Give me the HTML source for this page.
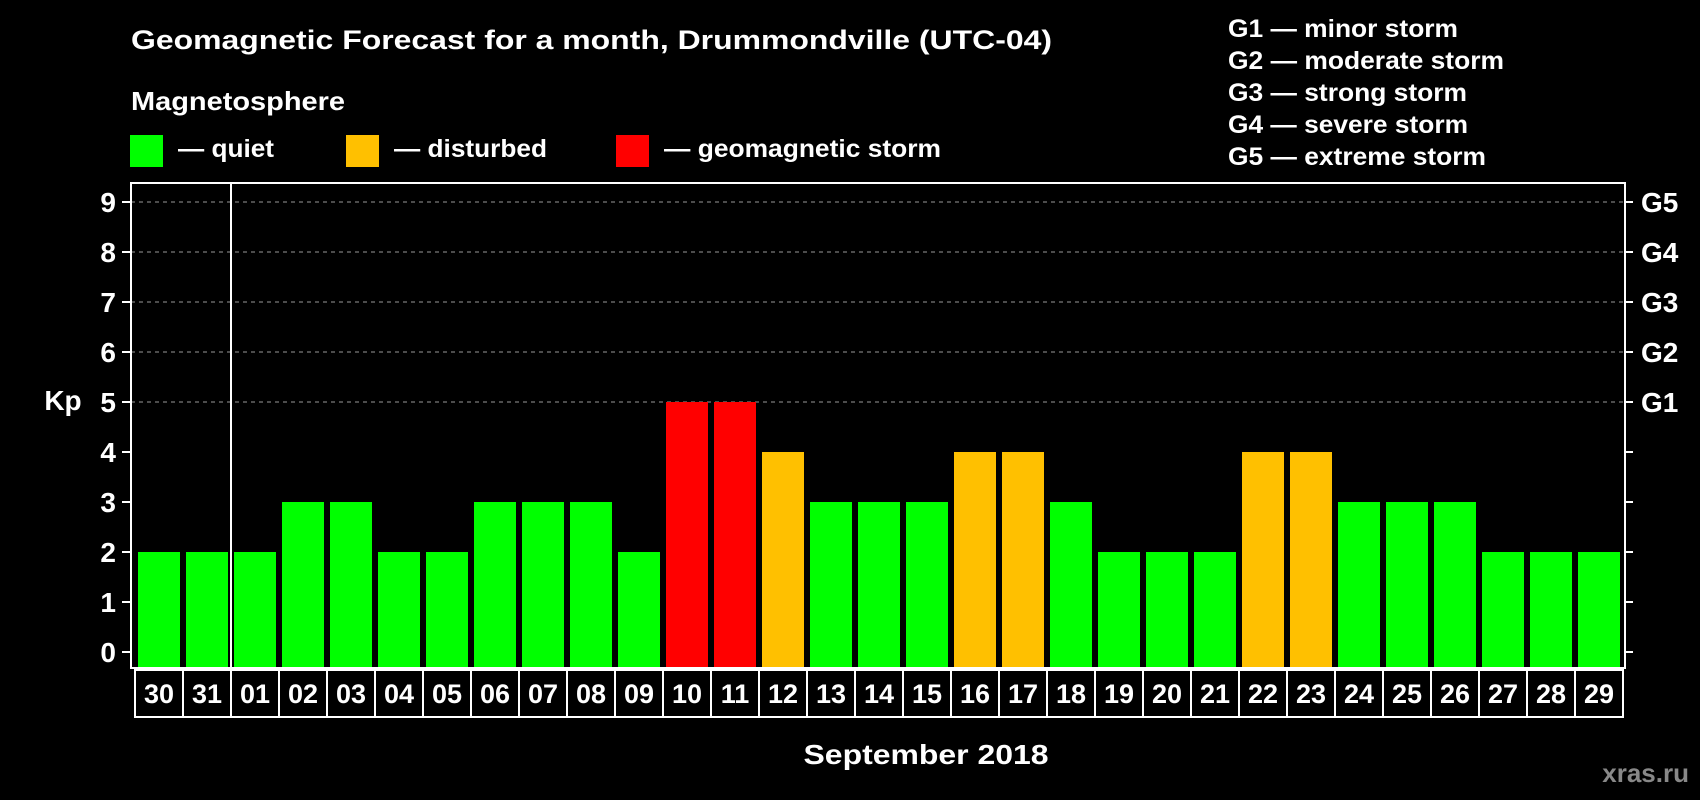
<!DOCTYPE html>
<html><head><meta charset="utf-8"><style>
html,body{margin:0;padding:0;background:#000;}
svg{display:block;font-family:"Liberation Sans",sans-serif;font-weight:bold;}
</style></head><body>
<svg id="chart" width="1700" height="800" viewBox="0 0 1700 800">
<rect x="0" y="0" width="1700" height="800" fill="#000"/>
<text x="131" y="49" fill="#fff" font-size="27" textLength="921" lengthAdjust="spacingAndGlyphs">Geomagnetic Forecast for a month, Drummondville (UTC-04)</text>
<text x="131" y="110" fill="#fff" font-size="26" textLength="214" lengthAdjust="spacingAndGlyphs">Magnetosphere</text>
<g><rect x="130" y="135" width="33" height="32" fill="#00ff00"/><text x="178" y="157" fill="#fff" font-size="25" textLength="96" lengthAdjust="spacingAndGlyphs">— quiet</text></g>
<g><rect x="346" y="135" width="33" height="32" fill="#ffc000"/><text x="394" y="157" fill="#fff" font-size="25" textLength="153" lengthAdjust="spacingAndGlyphs">— disturbed</text></g>
<g><rect x="616" y="135" width="33" height="32" fill="#ff0000"/><text x="664" y="157" fill="#fff" font-size="25" textLength="277" lengthAdjust="spacingAndGlyphs">— geomagnetic storm</text></g>
<g fill="#fff" font-size="25">
<text x="1228" y="37" textLength="230" lengthAdjust="spacingAndGlyphs">G1 — minor storm</text>
<text x="1228" y="69" textLength="276" lengthAdjust="spacingAndGlyphs">G2 — moderate storm</text>
<text x="1228" y="101" textLength="239" lengthAdjust="spacingAndGlyphs">G3 — strong storm</text>
<text x="1228" y="133" textLength="240" lengthAdjust="spacingAndGlyphs">G4 — severe storm</text>
<text x="1228" y="165" textLength="258" lengthAdjust="spacingAndGlyphs">G5 — extreme storm</text>
</g>
<text x="63" y="410" fill="#fff" font-size="28" text-anchor="middle">Kp</text>
<text x="926" y="764" fill="#fff" font-size="28" text-anchor="middle" textLength="245" lengthAdjust="spacingAndGlyphs">September 2018</text>
<text x="1689" y="782" fill="#888" font-size="26" text-anchor="end">xras.ru</text>
<g id="grid"></g>
<g id="bars"></g>
<g id="axes"></g>
</svg>
<script>
const days = ["30","31","01","02","03","04","05","06","07","08","09","10","11","12","13","14","15","16","17","18","19","20","21","22","23","24","25","26","27","28","29"];
const kpValues = [2,2,2,3,3,2,2,3,3,3,2,5,5,4,3,3,3,4,4,3,2,2,2,4,4,3,3,3,2,2,2];
const yTicks = [0,1,2,3,4,5,6,7,8,9];
const gLabels = ["G1","G2","G3","G4","G5"];
const gLevels = [5,6,7,8,9];

const NS = "http://www.w3.org/2000/svg";
const L = 131, R = 1625, T = 183, B = 668;
const y0 = 652, unit = 50;
const barStart = 138, pitch = 48, barW = 42;
function yScale(v){ return y0 - v*unit; }
function xScale(i){ return barStart + i*pitch; }
function colorFor(v){ return v >= 5 ? "#ff0000" : (v >= 4 ? "#ffc000" : "#00ff00"); }
function mk(tag, attrs, parent){ const e = document.createElementNS(NS, tag); for (const k in attrs) e.setAttribute(k, attrs[k]); parent.appendChild(e); return e; }

const grid = document.getElementById("grid");
gLevels.forEach((lv, i) => {
  const ln = mk("line", {x1: L, x2: R, y1: yScale(lv), y2: yScale(lv), stroke: "#999", "stroke-width": 1, "stroke-dasharray": "4,4"}, grid);
  
  
});

const bars = document.getElementById("bars");
kpValues.forEach((v, i) => {
  const r = mk("rect", {x: xScale(i), y: yScale(v), width: barW, height: B - yScale(v), fill: colorFor(v)}, bars);
  
  
});

const axes = document.getElementById("axes");
const frame = mk("rect", {x: L, y: T, width: R - L, height: B - T, fill: "none", stroke: "#fff", "stroke-width": 2}, axes);


const sep = mk("line", {x1: 231, x2: 231, y1: T, y2: 717, stroke: "#fff", "stroke-width": 2}, axes);



yTicks.forEach(t => {
  const y = yScale(t);
  mk("line", {x1: 122, x2: L, y1: y, y2: y, stroke: "#fff", "stroke-width": 2}, axes);
  mk("line", {x1: R, x2: 1633, y1: y, y2: y, stroke: "#fff", "stroke-width": 2}, axes);
  const tx = mk("text", {x: 116, y: y + 10, fill: "#fff", "font-size": 28, "text-anchor": "end"}, axes);
  tx.textContent = t;
  
  
});
gLabels.forEach((g, i) => {
  const tx = mk("text", {x: 1641, y: yScale(gLevels[i]) + 10, fill: "#fff", "font-size": 28}, axes);
  tx.textContent = g;
  
  
});

const boxL = 135, boxT = 670, boxB = 717;
days.forEach((d, i) => {
  const x = boxL + i*pitch;
  const bx = mk("rect", {x: x, y: boxT, width: pitch, height: boxB - boxT, fill: "none", stroke: "#fff", "stroke-width": 2}, axes);
  
  
  const tx = mk("text", {x: x + pitch/2, y: 703, fill: "#fff", "font-size": 27, "text-anchor": "middle"}, axes);
  tx.textContent = d;
  
  
});
</script>
</body></html>
